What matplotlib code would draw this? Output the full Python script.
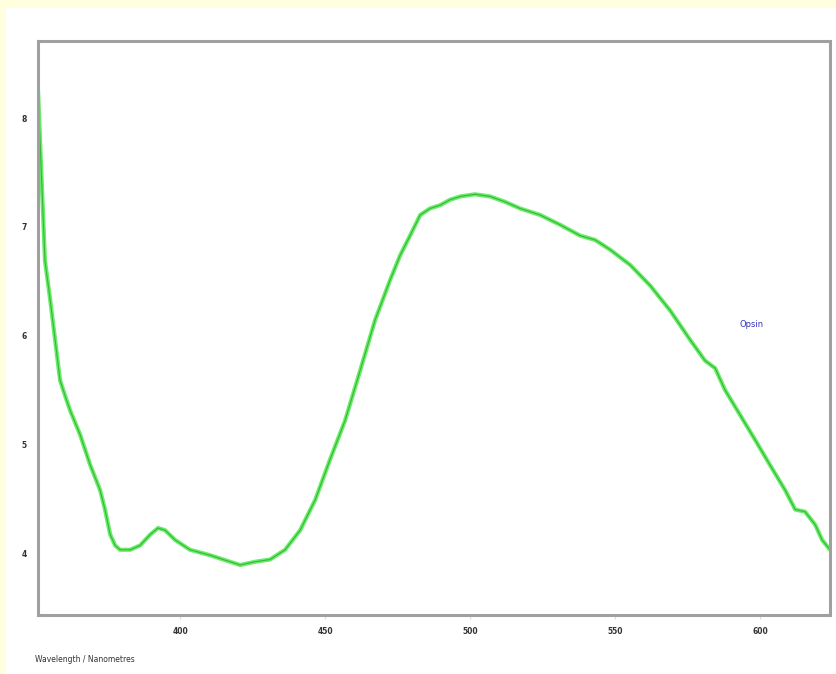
import matplotlib.pyplot as plt
from matplotlib.patches import Rectangle

# absorption spectrum
wavelength = [351.0, 352.4, 353.4, 355.2, 356.9, 358.6, 360.3, 362.1, 365.5, 369.0,
              372.4, 374.1, 375.9, 377.6, 379.3, 382.8, 386.2, 389.7, 392.4, 394.8,
              398.3, 403.4, 410.3, 417.2, 420.7, 425.9, 431.0, 436.2, 441.4, 446.6,
              451.7, 456.9, 462.1, 467.2, 472.4, 475.9, 479.3, 482.8, 486.2, 489.7,
              493.1, 496.6, 501.7, 506.9, 512.1, 517.2, 524.1, 531.0, 537.9, 543.1,
              548.3, 555.2, 562.1, 569.0, 575.9, 581.0, 584.5, 587.9, 593.1, 598.3,
              603.4, 608.6, 612.1, 615.5, 619.0, 621.4, 624.1]
absorbance = [0.826, 0.734, 0.669, 0.633, 0.596, 0.559, 0.545, 0.531, 0.509, 0.481,
              0.458, 0.440, 0.417, 0.407, 0.403, 0.403, 0.407, 0.417, 0.423, 0.421,
              0.412, 0.403, 0.398, 0.392, 0.389, 0.392, 0.394, 0.403, 0.421, 0.449,
              0.486, 0.522, 0.568, 0.614, 0.651, 0.674, 0.692, 0.711, 0.717, 0.720,
              0.725, 0.728, 0.730, 0.728, 0.723, 0.717, 0.711, 0.702, 0.692, 0.688,
              0.679, 0.665, 0.646, 0.623, 0.596, 0.577, 0.570, 0.550, 0.527, 0.504,
              0.481, 0.458, 0.440, 0.438, 0.426, 0.412, 0.403]

x_ticks = [400, 450, 500, 550, 600]
y_ticks = [0.4, 0.5, 0.6, 0.7, 0.8]
y_labels = ["4", "5", "6", "7", "8"]

fig = plt.figure(figsize=(8.37, 6.74), dpi=100, facecolor="#ffffe0")
fig.patches.append(Rectangle((6 / 837, 0), 1, 1 - 8 / 674, transform=fig.transFigure,
                             facecolor="white", edgecolor="none", zorder=-10))

ax = fig.add_axes([38 / 837, 1 - 615 / 674, 792 / 837, 574 / 674])
ax.set_facecolor("white")
ax.plot(wavelength, absorbance, color="#66ee66", lw=3.0, solid_capstyle="round")
ax.plot(wavelength, absorbance, color="#2a9a2a", lw=0.8, alpha=0.7)

ax.set_xlim(351, 624.1)
ax.set_ylim(0.343, 0.871)
ax.set_xticks(x_ticks)
ax.set_xticklabels([str(t) for t in x_ticks], fontsize=5.5, fontweight="bold", color="#333333")
ax.set_yticks(y_ticks)
ax.set_yticklabels(y_labels, fontsize=5.5, fontweight="bold", color="#333333")
ax.tick_params(axis="x", length=3, color="#dddddd", pad=6)
ax.tick_params(axis="y", length=0, pad=8)
for s in ax.spines.values():
    s.set_color("#a0a0a0")
    s.set_linewidth(2.2)

ax.text(593, 0.61, "Opsin", fontsize=6, color="#3333bb", va="center")
fig.text(35 / 837, 1 - 660 / 674, "Wavelength / Nanometres", fontsize=5.5,
         color="#333333", va="center", ha="left")

fig.savefig("out.png", dpi=100, facecolor=fig.get_facecolor())
